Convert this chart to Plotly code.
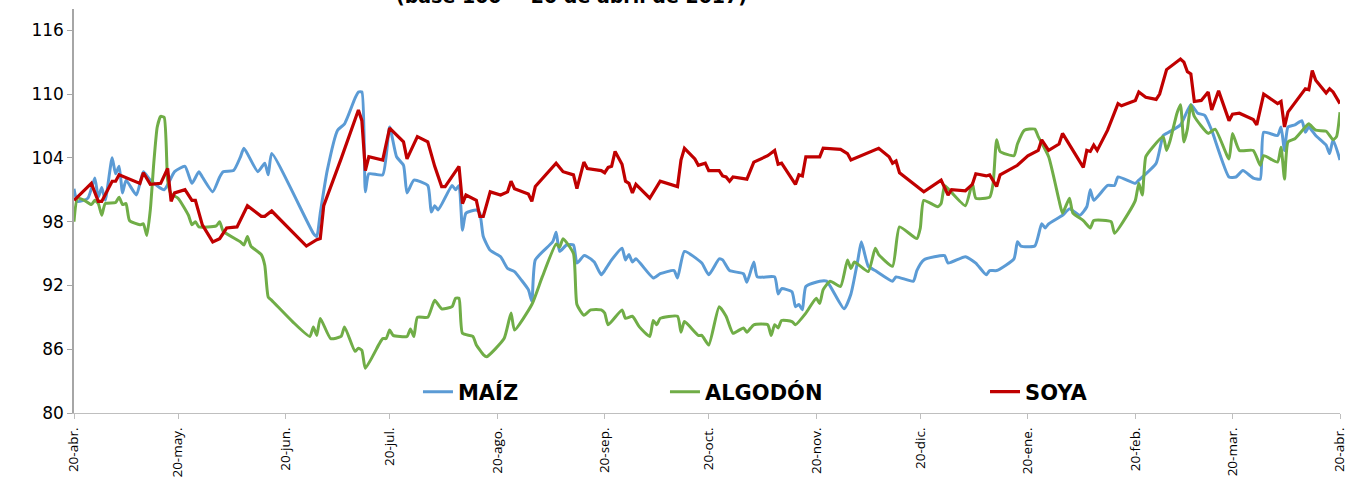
import pandas as pd
import plotly.graph_objects as go

# Índices de precios internacionales (base 100 = 20 de abril de 2017)
# Días transcurridos desde el 20-abr-2017 y valor del índice
inicio = pd.Timestamp("2017-04-20")

maiz_dias = [0, 1, 4, 6, 7, 8, 9, 11, 12, 13, 14, 15, 18, 20, 22, 26, 29, 32, 34, 36, 37, 40, 42, 43,
             46, 48, 49, 53, 55, 56, 57, 69, 70, 71, 73, 76, 78, 81, 82, 83, 84, 85, 89, 91, 93, 95,
             96, 98, 102, 103, 104, 105, 109, 110, 111, 112, 113, 116, 117, 118, 120, 123, 125, 127,
             129, 131, 132, 133, 138, 139, 140, 142, 144, 145, 147, 148, 150, 152, 153, 155, 158, 159,
             160, 161, 162, 167, 169, 173, 174, 176, 181, 183, 186, 187, 189, 193, 194, 196, 197, 202,
             203, 204, 207, 208, 209, 210, 211, 215, 217, 222, 224, 226, 227, 229, 231, 236, 237, 242,
             243, 245, 251, 252, 257, 260, 263, 264, 266, 271, 272, 273, 277, 279, 280, 281, 285, 287,
             290, 292, 293, 294, 298, 300, 301, 306, 307, 312, 314, 315, 319, 322, 324, 326, 328, 333,
             335, 337, 340, 342, 343, 347, 348, 349, 350, 352, 354, 355, 356, 358, 361, 362, 363, 365]
maiz_indice = [101.1, 99.9, 100.2, 102.1, 100.3, 101.2, 100.0, 104.0, 102.5, 103.2, 100.7, 101.9, 100.5,
               102.7, 101.9, 101.0, 102.7, 103.2, 101.6, 102.7, 102.2, 100.8, 102.2, 102.7, 102.8, 104.1,
               104.9, 102.7, 103.5, 102.4, 104.4, 96.9, 96.6, 98.8, 102.8, 106.6, 107.2, 109.6, 110.2,
               110.2, 100.8, 102.5, 102.4, 106.9, 104.1, 103.3, 100.7, 101.9, 101.4, 98.9, 99.5, 99.1,
               101.4, 101.0, 101.4, 97.2, 98.8, 99.1, 98.8, 96.6, 95.3, 94.7, 93.6, 93.3, 92.5, 91.6, 90.5,
               94.4, 96.1, 97.0, 95.2, 95.8, 95.8, 94.1, 94.8, 94.7, 94.2, 93.0, 93.4, 94.4, 95.5, 94.4,
               94.9, 94.2, 94.5, 92.7, 93.1, 93.4, 92.7, 95.2, 94.1, 93.0, 94.5, 94.4, 93.4, 93.1, 92.3,
               94.2, 92.8, 92.8, 91.2, 91.7, 91.4, 90.0, 90.2, 89.7, 91.9, 92.4, 92.4, 89.8, 91.2, 94.4,
               96.1, 93.8, 93.4, 92.4, 92.8, 92.4, 93.4, 94.4, 94.8, 94.1, 94.7, 94.1, 93.0, 93.4, 93.4,
               94.5, 96.1, 95.7, 95.7, 97.8, 97.4, 97.8, 98.6, 99.2, 98.6, 99.4, 101.0, 100.0, 101.4,
               101.4, 102.2, 101.6, 101.9, 103.5, 106.1, 106.3, 107.1, 109.0, 108.2, 108.0, 106.6, 102.2,
               102.2, 102.8, 102.1, 102.0, 106.4, 106.1, 106.9, 104.7, 106.9, 107.1, 107.5, 106.4, 106.9,
               106.1, 105.2, 104.4, 105.7, 103.8]

algodon_dias = [0, 1, 3, 5, 6, 7, 8, 9, 12, 13, 14, 15, 16, 19, 20, 21, 22, 23, 24, 25, 26, 27, 28, 30,
                33, 34, 35, 36, 41, 42, 43, 48, 49, 50, 51, 54, 55, 56, 57, 63, 68, 69, 70, 71, 74, 77,
                78, 81, 82, 83, 84, 88, 89, 90, 91, 92, 96, 97, 98, 99, 102, 104, 106, 109, 110, 111,
                112, 115, 116, 118, 119, 124, 126, 127, 132, 135, 139, 140, 141, 144, 145, 147, 149, 152,
                153, 154, 158, 159, 161, 163, 166, 167, 168, 169, 174, 175, 176, 180, 181, 183, 186, 188,
                190, 193, 194, 196, 200, 201, 202, 203, 204, 207, 208, 211, 214, 215, 216, 218, 221, 223,
                224, 225, 229, 231, 232, 236, 238, 243, 244, 245, 249, 250, 251, 252, 257, 259, 260, 264,
                265, 266, 267, 271, 272, 274, 277, 278, 281, 284, 285, 287, 288, 291, 293, 294, 299, 300,
                304, 306, 307, 308, 309, 311, 314, 315, 316, 318, 319, 320, 321, 322, 323, 327, 329, 333,
                334, 336, 340, 342, 343, 347, 348, 349, 350, 352, 355, 356, 358, 361, 363, 364, 365]
algodon_indice = [98.0, 100.2, 100.0, 99.6, 100.0, 99.7, 98.6, 99.7, 99.8, 100.3, 99.6, 99.7, 98.1, 97.7,
                  97.8, 96.7, 99.1, 103.5, 106.9, 107.9, 107.8, 101.9, 100.6, 100.2, 98.6, 97.7, 98.0,
                  97.5, 97.6, 98.0, 97.1, 96.1, 95.8, 96.6, 95.7, 94.9, 93.9, 90.9, 90.6, 88.6, 87.2,
                  88.1, 87.3, 88.9, 87.0, 87.2, 88.1, 85.8, 86.1, 85.9, 84.2, 86.5, 87.0, 87.0, 87.8,
                  87.3, 87.2, 87.9, 87.2, 89.0, 89.0, 90.6, 89.8, 90.0, 90.8, 90.8, 87.5, 87.2, 86.4,
                  85.5, 85.3, 87.0, 89.4, 87.8, 90.2, 92.8, 95.9, 95.6, 96.4, 95.0, 90.2, 89.2, 89.7,
                  89.7, 89.4, 88.3, 89.7, 88.9, 89.1, 88.1, 87.2, 88.7, 88.3, 88.9, 89.1, 87.6, 88.6,
                  87.3, 87.3, 86.4, 90.0, 89.1, 87.5, 88.0, 87.6, 88.3, 88.3, 87.3, 88.3, 88.0, 88.7,
                  88.6, 88.3, 89.4, 90.8, 90.3, 91.6, 92.4, 91.9, 94.4, 93.6, 94.2, 93.3, 95.5, 94.9,
                  93.8, 97.5, 96.4, 97.4, 100.0, 99.4, 99.7, 101.4, 101.1, 99.5, 101.6, 100.2, 100.3,
                  101.6, 105.7, 104.6, 104.2, 105.3, 106.6, 106.7, 106.0, 104.1, 100.0, 98.8, 100.2,
                  98.8, 98.1, 97.4, 98.1, 98.0, 96.9, 98.8, 100.0, 101.6, 100.5, 104.1, 105.0, 106.0,
                  104.7, 105.6, 108.2, 109.0, 105.5, 106.7, 109.0, 107.9, 106.3, 106.7, 103.9, 106.3,
                  104.7, 104.7, 103.3, 104.2, 103.6, 105.0, 102.0, 105.5, 105.8, 106.9, 107.2, 106.6,
                  106.5, 105.7, 106.0, 108.3]

soya_dias = [0, 5, 7, 8, 11, 12, 13, 19, 20, 22, 25, 27, 28, 29, 32, 34, 35, 37, 40, 42, 44, 47, 50, 54,
             55, 57, 67, 70, 71, 72, 77, 79, 82, 83, 84, 85, 89, 91, 95, 96, 99, 102, 104, 106, 107,
             111, 112, 113, 116, 117, 118, 120, 123, 125, 126, 127, 131, 132, 133, 139, 141, 144, 145,
             147, 148, 152, 153, 154, 155, 156, 158, 159, 160, 161, 162, 166, 169, 174, 175, 176, 179,
             180, 182, 183, 186, 187, 188, 189, 190, 194, 196, 200, 202, 203, 204, 208, 209, 210, 211,
             215, 216, 221, 223, 224, 232, 235, 236, 237, 238, 245, 250, 252, 253, 257, 259, 260, 263,
             264, 266, 267, 272, 275, 278, 279, 281, 284, 285, 291, 292, 293, 294, 295, 298, 301, 302,
             306, 307, 309, 312, 313, 315, 319, 320, 321, 322, 323, 325, 327, 328, 330, 333, 334, 336,
             340, 341, 343, 347, 348, 349, 350, 355, 356, 357, 358, 361, 362, 363, 365]
soya_indice = [100.0, 101.6, 99.9, 99.9, 101.8, 101.8, 102.4, 101.6, 102.6, 101.5, 101.6, 103.0, 99.9,
               100.7, 101.0, 100.0, 100.0, 97.7, 96.1, 96.4, 97.4, 97.5, 99.5, 98.5, 98.5, 99.0, 95.7,
               96.3, 96.4, 99.5, 103.9, 105.8, 108.5, 107.5, 102.8, 104.1, 103.8, 106.8, 105.5, 103.9,
               106.0, 105.5, 103.2, 101.3, 101.3, 103.2, 99.7, 100.5, 100.0, 98.5, 98.5, 100.8, 100.5,
               100.8, 101.8, 101.1, 100.6, 99.9, 101.3, 103.5, 102.7, 102.4, 101.1, 103.6, 103.0, 102.8,
               102.6, 103.1, 103.2, 104.6, 103.4, 101.8, 101.6, 100.7, 101.5, 100.2, 101.8, 101.3, 103.8,
               104.9, 103.9, 103.3, 103.5, 102.8, 102.8, 102.3, 102.2, 101.8, 102.2, 102.0, 103.6, 104.2,
               104.7, 103.4, 103.5, 101.5, 102.4, 102.3, 104.1, 104.1, 104.9, 104.8, 104.4, 103.8, 104.9,
               104.1, 103.5, 103.7, 102.6, 100.8, 101.9, 100.5, 101.0, 100.9, 101.5, 102.5, 102.3, 102.4,
               101.3, 102.4, 103.3, 104.2, 104.7, 105.7, 104.7, 105.3, 106.3, 103.1, 104.7, 104.6, 105.2,
               104.7, 106.6, 109.1, 108.9, 109.4, 110.2, 109.7, 109.5, 110.0, 112.3, 113.3, 113.0, 112.1,
               111.9, 109.3, 109.4, 110.2, 108.5, 110.3, 107.5, 108.1, 108.2, 107.6, 107.1, 110.0, 109.1,
               109.3, 106.9, 108.3, 110.5, 110.4, 112.2, 111.3, 110.1, 110.5, 110.2, 109.1]

meses_ticks = ["2017-04-20", "2017-05-20", "2017-06-20", "2017-07-20", "2017-08-20", "2017-09-20",
               "2017-10-20", "2017-11-20", "2017-12-20", "2018-01-20", "2018-02-20", "2018-03-20",
               "2018-04-20"]
meses_etiquetas = ["20-abr.", "20-may.", "20-jun.", "20-jul.", "20-ago.", "20-sep.", "20-oct.",
                   "20-nov.", "20-dic.", "20-ene.", "20-feb.", "20-mar.", "20-abr."]


def a_fechas(dias):
    return [inicio + pd.Timedelta(days=d) for d in dias]


fig = go.Figure()
fig.add_trace(go.Scatter(x=a_fechas(maiz_dias), y=maiz_indice, name="<b>MAÍZ</b>", mode="lines",
                         line=dict(color="#5B9BD5", width=3, shape="spline", smoothing=0.5),
                         legend="legend"))
fig.add_trace(go.Scatter(x=a_fechas(algodon_dias), y=algodon_indice, name="<b>ALGODÓN</b>", mode="lines",
                         line=dict(color="#70AD47", width=3, shape="spline", smoothing=0.5),
                         legend="legend2"))
fig.add_trace(go.Scatter(x=a_fechas(soya_dias), y=soya_indice, name="<b>SOYA</b>", mode="lines",
                         line=dict(color="#C00000", width=3.2),
                         legend="legend3"))

leyenda = dict(orientation="h", yanchor="middle", y=0.052, xanchor="left",
               font=dict(family="DejaVu Sans", size=21, color="#000000"),
               bgcolor="rgba(0,0,0,0)", borderwidth=0)

fig.update_layout(
    width=1365, height=479,
    margin=dict(l=74, r=25, t=9, b=66),
    paper_bgcolor="white", plot_bgcolor="white",
    showlegend=True,
    legend=dict(leyenda, x=0.2717),
    legend2=dict(leyenda, x=0.4668),
    legend3=dict(leyenda, x=0.7196),
    xaxis=dict(
        type="date",
        range=[meses_ticks[0], meses_ticks[-1]],
        tickmode="array", tickvals=meses_ticks, ticktext=meses_etiquetas,
        tickangle=-90, automargin=False, ticklabelstandoff=3,
        tickfont=dict(family="Open Sans", size=13.5, color="#000000"),
        showgrid=False, zeroline=False,
        showline=True, linecolor="#BFBFBF", linewidth=1.2,
        ticks="outside", ticklen=5, tickcolor="#BFBFBF",
    ),
    yaxis=dict(
        range=[80, 118], automargin=False,
        tickmode="linear", tick0=80, dtick=6,
        tickfont=dict(family="DejaVu Sans", size=17, color="#000000"),
        showgrid=False, zeroline=False,
        showline=True, linecolor="#A6A6A6", linewidth=1.5,
        ticks="outside", ticklen=5, tickcolor="#A6A6A6",
    ),
    annotations=[dict(
        text="<b>(base 100 = 20 de abril de 2017)</b>",
        xref="paper", yref="paper", x=0.3926, y=1.0,
        xanchor="center", yanchor="bottom", showarrow=False,
        font=dict(family="DejaVu Sans", size=19, color="#000000"),
    )],
)

fig.write_html("out.html")
